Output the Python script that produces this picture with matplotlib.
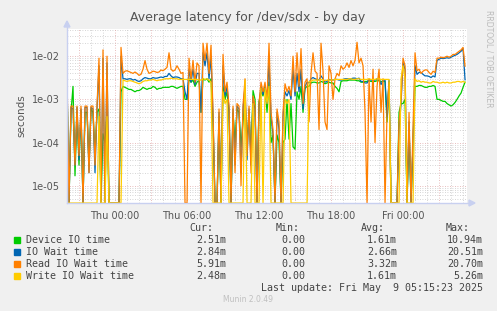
import numpy as np
import matplotlib
matplotlib.use("Agg")
from matplotlib import pyplot as plt
from matplotlib.ticker import FixedLocator, NullFormatter

# samples every 10 minutes starting Wed ~20:00, values in milliseconds (0 = nothing)
device_ms = [2.5, 0, 0.5, 2.0, 0.017, 0.5, 0.03, 0.55, 0, 0.5,
             0.5, 0.03, 0.6, 0.5, 0.05, 0.5, 0.6, 0, 0.16, 0.1,
             0.5, 0, 0, 0, 0, 0, 0, 1.5, 2.0, 1.9,
             1.8, 1.7, 1.7, 1.6, 1.5, 1.6, 1.6, 1.7, 1.9, 1.8,
             1.7, 1.8, 1.8, 2.0, 1.9, 1.7, 1.8, 1.8, 1.9, 1.9,
             1.9, 1.9, 2.0, 2.0, 1.9, 1.8, 1.9, 2.0, 2.0, 1.0,
             1.0, 3.0, 2.5, 2.8, 2.0, 2.5, 2.8, 0.5, 3.0, 2.8,
             3.0, 2.5, 3.0, 0.3, 0, 0, 0.4, 0, 2.0, 1.0,
             1.5, 0.5, 0, 0.5, 0.1, 0.6, 0.5, 0.08, 0.3, 1.0,
             0.1, 0.5, 0.05, 1.6, 1.0, 0, 0.9, 1.5, 1.2, 2.0,
             0.5, 2.5, 0.1, 0.15, 0, 0.15, 0.1, 0, 0.1, 0.12,
             1.0, 0.12, 0.8, 0.08, 0.07, 1.5, 1.0, 2.0, 0.5, 1.8,
             2.0, 2.0, 2.4, 2.5, 2.5, 2.4, 2.4, 2.6, 2.5, 2.3,
             2.4, 2.5, 2.4, 2.4, 2.0, 1.8, 1.5, 2.6, 2.7, 2.7,
             2.7, 2.8, 2.8, 2.8, 2.8, 2.7, 2.7, 2.5, 2.5, 2.6,
             2.6, 2.7, 2.6, 2.6, 2.6, 2.7, 2.7, 2.6, 2.6, 2.6,
             0.3, 2.6, 0, 0, 0, 0, 0.5, 0.8, 0.8, 1.0,
             0, 0.2, 0, 0.1, 2.0, 2.0, 2.1, 2.1, 2.0, 1.9,
             1.9, 2.0, 2.0, 2.1, 2.0, 1.0, 1.0, 0.95, 0.9, 0.9,
             0.8, 0.75, 0.7, 0.75, 0.85, 1.0, 1.2, 1.4, 1.9, 2.51]
iowait_ms = [3.1, 0, 0.65, 0.6, 0.03, 0.65, 0.04, 0.6, 0, 0.65,
             0.65, 0.02, 0.65, 0.6, 0.02, 0.6, 6.0, 0, 9.0, 0,
             7.0, 0, 0, 0, 0, 0, 0, 10.0, 3.0, 3.0,
             2.9, 3.0, 3.0, 2.8, 2.9, 2.7, 2.6, 2.7, 3.0, 3.2,
             3.1, 3.0, 3.0, 3.2, 3.1, 3.1, 3.2, 3.3, 3.2, 3.4,
             3.4, 4.0, 3.5, 3.2, 3.3, 3.3, 3.2, 3.0, 3.0, 1.5,
             1.0, 5.0, 2.5, 5.0, 2.2, 4.0, 4.0, 0.5, 12.0, 6.0,
             12.0, 3.0, 10.0, 0.4, 0, 0, 0.5, 0, 6.0, 1.2,
             2.0, 0.6, 0, 0.6, 0.03, 0.7, 0.6, 0.02, 0.6, 2.0,
             0.04, 0.6, 0.03, 1.1, 0.6, 0, 0.7, 2.0, 1.3, 2.0,
             0.8, 8.0, 0.4, 0.15, 0, 0.5, 0.2, 0, 0.4, 1.5,
             1.2, 1.6, 1.0, 5.0, 1.2, 4.0, 1.5, 5.0, 0.6, 2.0,
             2.5, 2.4, 3.0, 3.2, 3.0, 2.9, 2.8, 3.5, 3.0, 2.5,
             2.6, 2.9, 2.8, 2.8, 2.9, 2.9, 2.8, 2.8, 2.9, 3.0,
             3.0, 3.0, 3.0, 3.1, 3.1, 3.0, 3.1, 2.6, 2.6, 2.4,
             2.4, 2.9, 2.8, 2.8, 2.8, 3.0, 3.0, 2.2, 2.8, 2.8,
             0.4, 2.8, 0, 0, 0, 0, 0.2, 0.8, 7.0, 5.0,
             0, 0.3, 0, 0.1, 6.0, 3.8, 4.2, 4.2, 3.8, 3.5,
             3.5, 3.4, 3.2, 3.5, 3.3, 8.0, 8.5, 9.0, 8.8, 9.0,
             9.2, 9.0, 9.5, 10.0, 10.5, 11.0, 12.0, 13.0, 15.0, 2.84]
read_ms = [4.2, 0, 0.7, 0.7, 0.03, 0.7, 0.05, 0.7, 0, 0.7,
           0.7, 0.02, 0.7, 0.7, 0.03, 0.7, 9.0, 0, 14.0, 0,
           10.0, 0, 0, 0, 0, 0, 0, 16.0, 4.0, 4.5,
           4.6, 4.4, 4.2, 4.0, 4.3, 4.0, 3.6, 3.8, 5.0, 7.9,
           5.0, 4.0, 4.2, 4.5, 4.4, 4.2, 4.3, 4.8, 4.6, 5.0,
           5.5, 12.0, 5.0, 4.5, 4.8, 6.0, 5.0, 4.0, 4.2, 0,
           0, 9.0, 3.0, 8.0, 2.5, 7.0, 6.0, 0, 20.0, 8.0,
           20.0, 4.0, 18.0, 0.5, 0, 0, 0.6, 0, 11.0, 1.5,
           2.5, 0.7, 0, 0.7, 0.02, 0.8, 0.7, 0.01, 0.7, 3.0,
           0.05, 0.7, 0.02, 1.2, 0.7, 0, 0.8, 2.5, 1.5, 2.5,
           1.0, 20.0, 0.5, 0.2, 0, 0.6, 0.3, 0, 0.5, 2.3,
           1.5, 2.0, 1.2, 10.0, 1.5, 12.0, 2.0, 15.0, 0.8, 2.5,
           3.0, 0.3, 4.0, 12.0, 4.5, 4.0, 0.2, 20.0, 4.5, 0.3,
           0.2, 6.0, 4.0, 1.0, 3.0, 4.0, 3.5, 6.0, 5.0, 5.5,
           7.0, 5.5, 7.9, 6.0, 8.0, 21.0, 7.0, 9.0, 6.0, 0.5,
           0, 3.0, 0.3, 5.0, 0.1, 2.0, 5.0, 0.5, 3.0, 0,
           0.5, 2.5, 0, 0, 0, 0, 0.3, 1.0, 9.0, 6.0,
           0, 0.5, 0, 0.2, 12.0, 4.6, 5.0, 4.0, 4.5, 4.8,
           4.8, 4.2, 3.8, 4.5, 4.2, 9.0, 9.0, 9.5, 9.2, 9.5,
           10.0, 9.5, 10.0, 11.0, 11.0, 12.0, 13.0, 14.0, 16.0, 5.91]
write_ms = [0, 0, 0, 0, 0, 0, 0, 0, 0, 0,
            0, 0, 0, 0, 0, 0, 0.4, 0, 0, 0,
            0.4, 0, 0, 0, 0, 0, 0, 0, 2.8, 2.7,
            2.6, 2.7, 2.7, 2.6, 2.5, 2.4, 2.3, 2.4, 2.6, 2.7,
            2.7, 2.8, 2.8, 2.9, 2.8, 2.7, 2.8, 2.8, 2.9, 3.0,
            3.0, 3.0, 3.1, 3.0, 3.0, 3.0, 2.9, 2.9, 2.9, 2.9,
            2.9, 2.9, 2.9, 2.9, 2.9, 2.9, 2.8, 2.8, 3.0, 2.9,
            3.0, 2.8, 2.5, 0, 0, 0, 0, 0, 1.5, 0.8,
            1.0, 0, 0, 0, 0, 0, 0, 0, 0, 2.8,
            0, 0, 0, 0.8, 0, 0, 0, 1.8, 0, 1.8,
            0.8, 2.0, 0, 0, 0, 0, 0, 0, 0, 1.0,
            0.8, 1.0, 0, 0, 0, 0, 0, 0, 0, 0,
            0, 2.6, 2.6, 2.8, 2.8, 2.8, 2.8, 2.9, 2.8, 2.7,
            2.8, 2.8, 2.8, 2.8, 2.9, 2.9, 2.9, 2.9, 2.9, 2.9,
            2.9, 3.0, 3.0, 2.9, 2.9, 3.0, 3.0, 2.9, 2.9, 2.9,
            2.9, 3.0, 2.9, 2.9, 2.9, 3.0, 3.0, 2.9, 2.9, 2.9,
            2.9, 2.9, 0, 0, 0, 0, 0, 3.0, 6.0, 3.0,
            0, 0, 0, 0, 3.0, 2.6, 2.7, 2.5, 2.6, 2.5,
            2.5, 2.4, 2.4, 2.6, 2.5, 2.5, 2.4, 2.4, 2.5, 2.4,
            2.5, 2.4, 2.4, 2.5, 2.5, 2.6, 2.6, 2.5, 2.6, 2.48]

series = [("Device IO time", device_ms, "#00CC00", "2.51m", "0.00", "1.61m", "10.94m"),
          ("IO Wait time", iowait_ms, "#0066B3", "2.84m", "0.00", "2.66m", "20.51m"),
          ("Read IO Wait time", read_ms, "#FF8000", "5.91m", "0.00", "3.32m", "20.70m"),
          ("Write IO Wait time", write_ms, "#FFCC00", "2.48m", "0.00", "1.61m", "5.26m")]

tick_hours = [4, 10, 16, 22, 28]
tick_labels = ["Thu 00:00", "Thu 06:00", "Thu 12:00", "Thu 18:00", "Fri 00:00"]

W, H = 497, 311
ymin, ymax = 10 ** -5.40, 10 ** -1.37

fig = plt.figure(figsize=(W / 100, H / 100), dpi=100, facecolor="#F0F0F0")
ax = fig.add_axes([67 / W, 1 - 203 / H, 400 / W, (203 - 29) / H])
ax.set_facecolor("white")

t = np.arange(len(read_ms)) / 6.0
for name, vals, col, *_ in series:
    y = np.array(vals) / 1000.0
    y = np.maximum(y, ymin)  # zeros sit on the floor like rrdtool
    ax.plot(t, y, color=col, lw=0.9, zorder=3)

ax.set_yscale("log")
ax.set_ylim(ymin, ymax)
ax.set_xlim(0, 33.33)

# grid
minor_col = "#C8C8C8"
major_col = "#E0A8A8"
dot = (0, (1, 2))
for d in range(-6, 0):
    for m in range(2, 10):
        v = m * 10.0 ** d
        if ymin < v < ymax:
            ax.axhline(v, color=minor_col, lw=0.6, ls=dot, zorder=1)
    if ymin < 10.0 ** d < ymax:
        ax.axhline(10.0 ** d, color=major_col, lw=0.6, ls=dot, zorder=2)
for h in range(1, 34):
    c = major_col if h % 3 == 1 else minor_col
    ax.axvline(h, color=c, lw=0.6, ls=dot, zorder=2 if c == major_col else 1)

ax.yaxis.set_major_locator(FixedLocator([1e-5, 1e-4, 1e-3, 1e-2]))
ax.yaxis.set_minor_locator(FixedLocator([]))
ax.set_yticklabels(["1e-05", "1e-04", "1e-03", "1e-02"])
ax.yaxis.set_minor_formatter(NullFormatter())
ax.set_xticks(tick_hours)
ax.set_xticklabels(tick_labels)
ax.tick_params(axis="both", length=0, labelsize=7, colors="#555555", pad=5)
ax.tick_params(axis="x", pad=6)
for s in ax.spines.values():
    s.set_visible(False)
ax.set_ylabel("seconds", fontsize=7.5, color="#555555", labelpad=4)

# axis arrows
acol = "#C8D0F0"
fig.add_artist(plt.Line2D([67 / W, 67 / W], [1 - 203 / H, 1 - 24 / H], color=acol, lw=1))
fig.add_artist(plt.Line2D([67 / W, 470 / W], [1 - 203 / H, 1 - 203 / H], color=acol, lw=1))
fig.add_artist(plt.Polygon([[64 / W, 1 - 27 / H], [70 / W, 1 - 27 / H], [67 / W, 1 - 21 / H]],
                           closed=True, color=acol))
fig.add_artist(plt.Polygon([[469 / W, 1 - 200 / H], [469 / W, 1 - 206 / H], [475 / W, 1 - 203 / H]],
                           closed=True, color=acol))

fig.text(248 / W, 1 - 18 / H, "Average latency for /dev/sdx - by day", ha="center", va="center",
         fontsize=9, color="#555555")
fig.text(489 / W, 1 - 10 / H, "RRDTOOL / TOBI OETIKER", rotation=270, ha="center", va="top",
         fontsize=5.5, color="#BBBBBB")

mono = "DejaVu Sans Mono"
fs = 7.2
tc = "#444444"
fig.text(213 / W, 1 - 228 / H, "Cur:", ha="right", va="center", family=mono, fontsize=fs, color=tc)
fig.text(300 / W, 1 - 228 / H, "Min:", ha="right", va="center", family=mono, fontsize=fs, color=tc)
fig.text(385 / W, 1 - 228 / H, "Avg:", ha="right", va="center", family=mono, fontsize=fs, color=tc)
fig.text(470 / W, 1 - 228 / H, "Max:", ha="right", va="center", family=mono, fontsize=fs, color=tc)
for k, (name, vals, col, cur, mn, avg, mx) in enumerate(series):
    yy = 1 - (240 + 12 * k) / H
    fig.add_artist(plt.Rectangle((14 / W, yy - 3 / H), 6 / W, 6 / H, color=col))
    fig.text(26 / W, yy, name, ha="left", va="center", family=mono, fontsize=fs, color=tc)
    fig.text(226 / W, yy, cur, ha="right", va="center", family=mono, fontsize=fs, color=tc)
    fig.text(305 / W, yy, mn, ha="right", va="center", family=mono, fontsize=fs, color=tc)
    fig.text(397 / W, yy, avg, ha="right", va="center", family=mono, fontsize=fs, color=tc)
    fig.text(483 / W, yy, mx, ha="right", va="center", family=mono, fontsize=fs, color=tc)
fig.text(483 / W, 1 - 288 / H, "Last update: Fri May  9 05:15:23 2025", ha="right", va="center",
         family=mono, fontsize=fs, color=tc)
fig.text(248 / W, 1 - 300 / H, "Munin 2.0.49", ha="center", va="center", fontsize=5.5, color="#C0C0C0")

fig.savefig("out.png", dpi=100, facecolor=fig.get_facecolor())
